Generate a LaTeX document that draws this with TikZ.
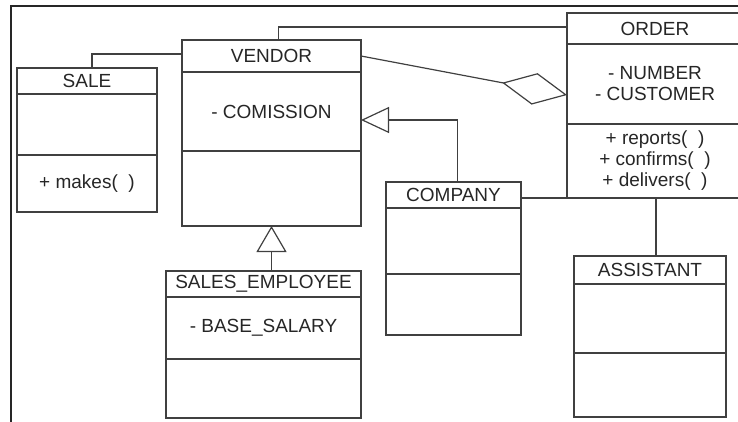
\documentclass[tikz,border=0pt]{standalone}
\usepackage{fontspec}
\setmainfont{Liberation Sans}
\usepackage{tikz}
\usetikzlibrary{arrows.meta, positioning}

\tikzset{
  cls/.style={draw=black!75, line width=1.2pt, rectangle, inner sep=1pt, outer sep=0pt,
    align=center, text=black!85, font=\fontsize{19}{21}\selectfont},
  assoc/.style={draw=black!75, line width=1.2pt},
  frame/.style={draw=black!85, line width=2pt},
}

\begin{document}
\begin{tikzpicture}[x=1pt, y=-1pt]
    \useasboundingbox (0,0) rectangle (738,421);
    \clip (0,0) rectangle (738,421);

    % Frame
    \draw[frame] (11,425) -- (11,6) -- (745,6);

    % SALE
    \node[cls, minimum width=140, minimum height=26, anchor=north west] (sale) at (17,68) {SALE};
    \node[cls, minimum width=140, minimum height=61, below=0pt of sale] (sale-attr) {};
    \node[cls, minimum width=140, minimum height=57, below=0pt of sale-attr] (sale-ops) {+ makes(\ \ )};

    % VENDOR
    \node[cls, minimum width=179, minimum height=32, anchor=north west] (vendor) at (182,40) {VENDOR};
    \node[cls, minimum width=179, minimum height=79, below=0pt of vendor] (vendor-attr) {- COMISSION};
    \node[cls, minimum width=179, minimum height=75, below=0pt of vendor-attr] (vendor-ops) {};

    % ORDER
    \node[cls, minimum width=176, minimum height=31, anchor=north west] (order) at (567,13) {ORDER};
    \node[cls, minimum width=176, minimum height=80, below=0pt of order] (order-attr) {- NUMBER\\- CUSTOMER};
    \node[cls, minimum width=176, minimum height=74, below=0pt of order-attr] (order-ops) {+ reports(\ \ )\\+ confirms(\ \ )\\+ delivers(\ \ )};

    % COMPANY
    \node[cls, minimum width=135, minimum height=26, anchor=north west] (company) at (386,182) {COMPANY};
    \node[cls, minimum width=135, minimum height=66, below=0pt of company] (company-attr) {};
    \node[cls, minimum width=135, minimum height=61, below=0pt of company-attr] (company-ops) {};

    % SALES_EMPLOYEE
    \node[cls, minimum width=195, minimum height=26, anchor=north west] (salesemp) at (166,271) {SALES\_EMPLOYEE};
    \node[cls, minimum width=195, minimum height=62, below=0pt of salesemp] (salesemp-attr) {- BASE\_SALARY};
    \node[cls, minimum width=195, minimum height=59, below=0pt of salesemp-attr] (salesemp-ops) {};

    % ASSISTANT
    \node[cls, minimum width=152, minimum height=28, anchor=north west] (assistant) at (574,256) {ASSISTANT};
    \node[cls, minimum width=152, minimum height=69, below=0pt of assistant] (assistant-attr) {};
    \node[cls, minimum width=152, minimum height=64, below=0pt of assistant-attr] (assistant-ops) {};

    % Associations
    \draw[assoc] ([xshift=5pt]sale.north) |- ([yshift=-14pt]vendor.north west);
    \draw[assoc] ([xshift=7pt]vendor.north) |- ([yshift=-14pt]order.north west);
    \draw[assoc] (company.east |- order-ops.south) -- ([xshift=6pt]assistant.north |- order-ops.south)
        -- ([xshift=6pt]assistant.north);

    % Aggregation
    \draw[assoc, -{Diamond[open, length=66pt, width=32pt]}] (vendor.east) -- ([yshift=-11pt]order-attr.west);

    % Generalizations
    \draw[assoc, -{Triangle[open, length=28pt, width=26pt]}] ([xshift=4pt]company.north) |- ([yshift=-8.5pt]vendor-attr.east);
    \draw[assoc, -{Triangle[open, length=26pt, width=30pt]}] (vendor-ops.south |- salesemp.north) -- (vendor-ops.south);
\end{tikzpicture}
\end{document}
